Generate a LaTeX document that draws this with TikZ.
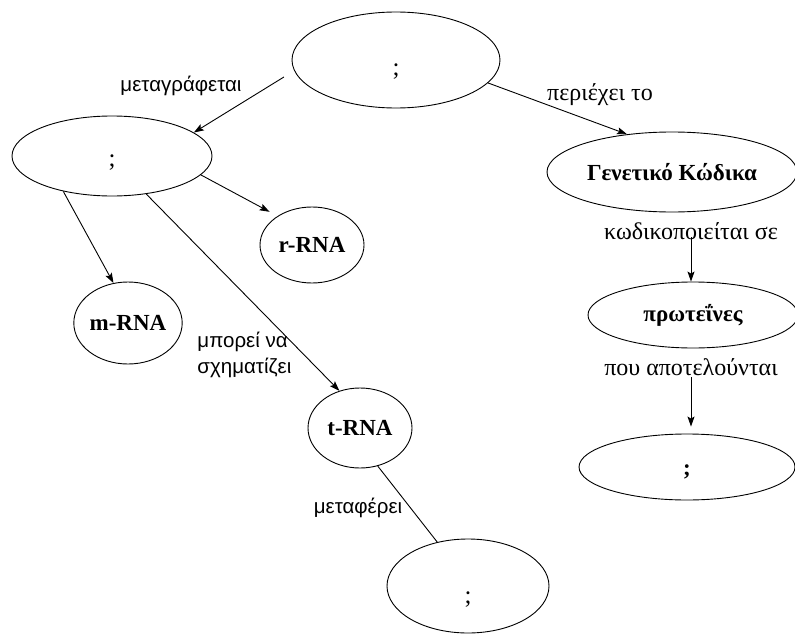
\documentclass[tikz,border=0pt]{standalone}
\usepackage{fontspec}
\setmainfont{Liberation Serif}
\newfontfamily\greeksans{Liberation Sans}
\usepackage{tikz}
\usetikzlibrary{shapes.geometric,arrows.meta}

\newcommand{\qmark}[1]{\raisebox{-#1}[0pt][0pt]{;}}

\begin{document}
\begin{tikzpicture}[x=1pt, y=-1pt,
            line width=0.9pt,
            oval/.style = {shape=ellipse, draw, inner sep=0pt,
                           font=\fontsize{23}{26}\selectfont\bfseries},
            question/.style = {shape=ellipse, draw, inner sep=0pt,
                           font=\fontsize{25}{28}\selectfont},
            serif label/.style = {font=\fontsize{24}{28}\selectfont, inner sep=1pt},
            sans label/.style = {font=\greeksans\fontsize{20.5}{26}\selectfont,
                                 inner sep=1pt, align=left},
            link/.style = {-{Stealth[length=10pt,width=7pt,inset=2pt]}}]
    \useasboundingbox (0,0) rectangle (795,634);
    \clip (0,0) rectangle (795,634);

    % left branch
    \node[question, minimum width=208pt, minimum height=96pt] (dna) at (396,60) {\qmark{15pt}};
    \node[question, minimum width=200pt, minimum height=80pt] (rna) at (112,156) {\qmark{10pt}};
    \node[oval, minimum width=104pt, minimum height=76pt] (rrna) at (312,245) {r-RNA};
    \node[oval, minimum width=104pt, minimum height=82pt] (mrna) at (128,323) {m-RNA};
    \node[oval, minimum width=104pt, minimum height=80pt] (trna) at (360,428) {t-RNA};
    \node[question, minimum width=162pt, minimum height=94pt] (amino) at (468,586) {\qmark{17pt}};

    % right branch
    \node[oval, minimum width=250pt, minimum height=80pt] (code) at (672,172) {Γενετικό Κώδικα};
    \node[oval, minimum width=210pt, minimum height=66pt] (protein) at (693,315) {πρωτεΐνες};
    \node[oval, minimum width=216pt, minimum height=66pt] (aminoacids) at (687,467) {\qmark{8pt}};

    % labels
    \node[sans label] (transcribed) at (181,86) {μεταγράφεται};
    \node[serif label] (contains) at (600,95) {περιέχει το};
    \node[serif label] (encoded) at (691,231) {κωδικοποιείται σε};
    \node[sans label, anchor=west] (forms) at (196,355) {μπορεί να\\σχηματίζει};
    \node[serif label] (consist) at (691,367) {που αποτελούνται};
    \node[sans label] (carries) at (358,508) {μεταφέρει};

    \draw[link, shorten <=12pt] (dna.186) -- (rna.16);
    \draw[link] (dna.-14) -- (code.140);
    \draw[link, shorten >=9pt] (rna.-12) -- (rrna.140);
    \draw[link] (rna.216) -- (mrna.110);
    \draw[link] (rna.-48) -- (trna.119);
    \draw (trna.-65) -- (amino.125);
    \draw[link] ([yshift=-6pt]encoded.center) -- (encoded.center |- protein.north);
    \draw[link, shorten >=7pt] (consist.south) -- (consist.south |- aminoacids.north);
\end{tikzpicture}
\end{document}
